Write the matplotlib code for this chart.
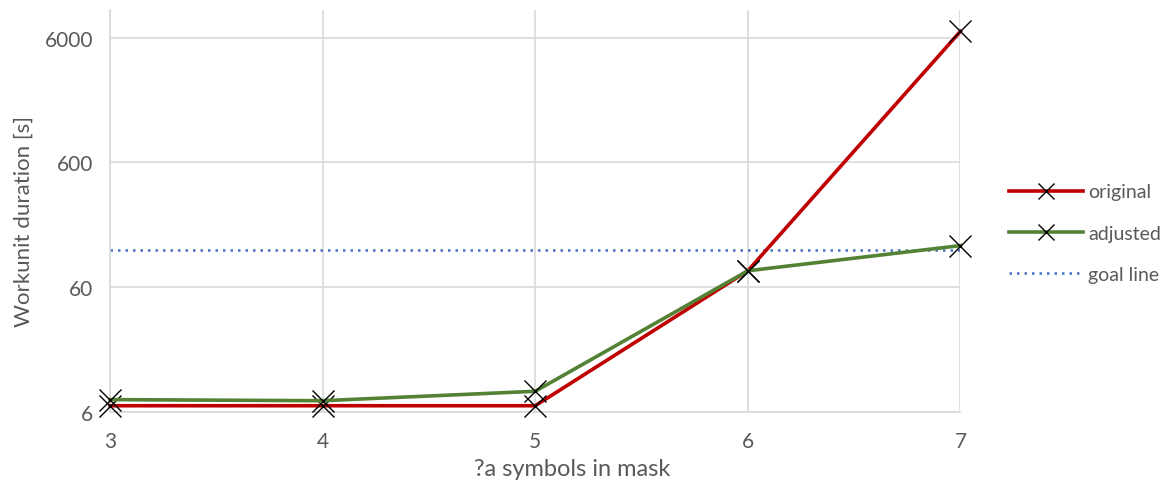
import matplotlib.pyplot as plt
from matplotlib.ticker import FixedLocator, NullLocator

plt.rcParams["font.family"] = ["Lato", "DejaVu Sans"]

mask_symbols = [3, 4, 5, 6, 7]
original = [6.7, 6.7, 6.7, 81, 6750]
adjusted = [7.5, 7.35, 8.75, 81, 129]
goal = 120
y_ticks = [6, 60, 600, 6000]

text_color = "#595959"
grid_color = "#d9d9d9"

fig = plt.figure(figsize=(11.73, 4.81), dpi=100)
ax = fig.add_axes([0.0938, 0.142, 0.725, 0.835])

ax.axhline(goal, color="#4472c4", linestyle=(0, (1, 2)), linewidth=1.8, label="goal line", zorder=2)
ax.plot(mask_symbols, original, color="#c00000", linewidth=2.6, marker="x", markersize=16,
        markeredgecolor="black", markeredgewidth=1.0, label="original", zorder=3, clip_on=False)
ax.plot(mask_symbols, adjusted, color="#548235", linewidth=2.6, marker="x", markersize=16,
        markeredgecolor="black", markeredgewidth=1.0, label="adjusted", zorder=4, clip_on=False)

ax.set_yscale("log")
ax.set_ylim(6, 10000)
ax.set_xlim(3, 7)
ax.yaxis.set_major_locator(FixedLocator(y_ticks))
ax.yaxis.set_minor_locator(NullLocator())
ax.set_yticklabels([str(t) for t in y_ticks])
ax.set_xticks(mask_symbols)

ax.grid(True, color=grid_color, linewidth=1.2)
ax.set_axisbelow(True)
for side in ["top", "right"]:
    ax.spines[side].set_visible(False)
for side in ["left", "bottom"]:
    ax.spines[side].set_color(grid_color)
    ax.spines[side].set_linewidth(1.2)
ax.tick_params(axis="both", length=0, labelsize=15, colors=text_color)
ax.tick_params(axis="x", pad=14)
ax.tick_params(axis="y", pad=12)

ax.set_xlabel("?a symbols in mask", fontsize=17, color=text_color)
ax.set_ylabel("Workunit duration [s]", fontsize=16, color=text_color)
ax.xaxis.set_label_coords(0.544, -0.115)
ax.yaxis.set_label_coords(-0.09, 0.477)

handles, labels = ax.get_legend_handles_labels()
order = [1, 2, 0]
fig.legend([handles[i] for i in order], [labels[i] for i in order],
           loc="center left", bbox_to_anchor=(0.845, 0.513), frameon=False,
           fontsize=14, labelcolor=text_color, handlelength=3.8, handletextpad=0.3,
           labelspacing=1.25, markerscale=0.75)

fig.savefig("out.png", dpi=100)
